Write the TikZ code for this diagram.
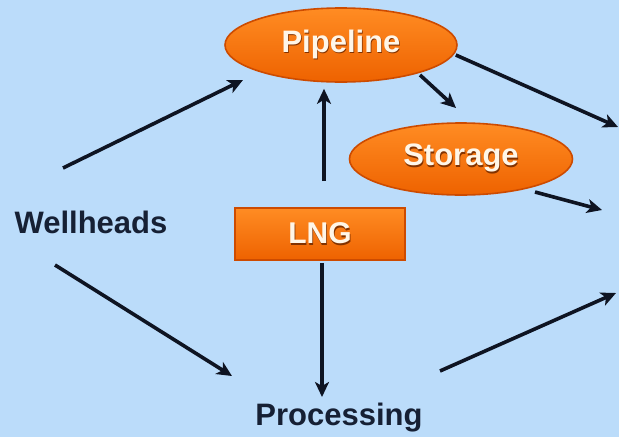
\documentclass[tikz,border=0pt]{standalone}
\usepackage{fontspec}
\setmainfont{Liberation Sans}
\usetikzlibrary{shapes.geometric,arrows.meta}
\definecolor{bgblue}{RGB}{187,220,250}
\definecolor{orlight}{RGB}{255,140,35}
\definecolor{ordark}{RGB}{238,98,0}
\definecolor{oredge}{RGB}{205,75,0}
\definecolor{arrowc}{RGB}{14,20,34}
\definecolor{txtdark}{RGB}{22,32,52}
\definecolor{txtshadow}{RGB}{130,50,0}
\definecolor{txtwhite}{RGB}{255,246,232}
\tikzset{
  orshape/.style={top color=orlight, bottom color=ordark, draw=oredge, line width=1.6pt, inner sep=0pt},
  ovalbox/.style={orshape, ellipse},
  rectbox/.style={orshape, rectangle},
  plainlbl/.style={inner sep=0pt, text=txtdark, font=\fontsize{31}{37}\selectfont\bfseries},
  arr/.style={draw=arrowc, line width=3.6pt, -{Stealth[length=15pt,width=14pt,inset=4pt]}},
}
\newcommand{\shadowtext}[1]{\makebox[0pt]{\textcolor{txtshadow}{\raisebox{-1.5pt}{\hspace*{1.5pt}#1}}}\makebox[0pt]{\textcolor{txtwhite}{#1}}}
\begin{document}
\begin{tikzpicture}[x=1pt,y=-1pt]
\fill[bgblue] (0,0) rectangle (619,437);
\useasboundingbox (0,0) rectangle (619,437);
% nodes
\node[ovalbox, minimum width=232pt, minimum height=74pt] (pipe) at (341,45) {};
\node[font=\fontsize{31}{37}\selectfont\bfseries] at (pipe.center) {\shadowtext{Pipeline}};
\node[ovalbox, minimum width=223pt, minimum height=72pt] (stor) at (461,159) {};
\node[font=\fontsize{31}{37}\selectfont\bfseries] at (stor.center) {\shadowtext{Storage}};
\node[rectbox, minimum width=170pt, minimum height=52pt] (lng) at (320,234) {};
\node[font=\fontsize{30}{36}\selectfont\bfseries] at (lng.center) {\shadowtext{LNG}};
\node[plainlbl] (wh) at (91,222) {Wellheads};
\node[plainlbl] (proc) at (339,418) {Processing};
\coordinate (r1) at (618,127);
\coordinate (r2) at (602,210);
\coordinate (r3) at (616,293);
% connectors
\draw[arr] ([shift={(-28,-54)}]wh.center) -- ([shift={(-98,35)}]pipe.center);
\draw[arr] ([shift={(4,-26)}]lng.north) -- ([shift={(-17,6)}]pipe.south);
\draw[arr] ([shift={(79,30)}]pipe.center) -- ([shift={(-5,-51)}]stor.center);
\draw[arr] ([shift={(-2,10)}]pipe.east) -- (r1);
\draw[arr] ([shift={(74,33)}]stor.center) -- (r2);
\draw[arr] ([shift={(-36,43)}]wh.center) -- ([shift={(-107,-42)}]proc.center);
\draw[arr] ([shift={(2,2)}]lng.south) -- ([shift={(-17,-21)}]proc.center);
\draw[arr] ([shift={(101,-47)}]proc.center) -- (r3);
\end{tikzpicture}
\end{document}
